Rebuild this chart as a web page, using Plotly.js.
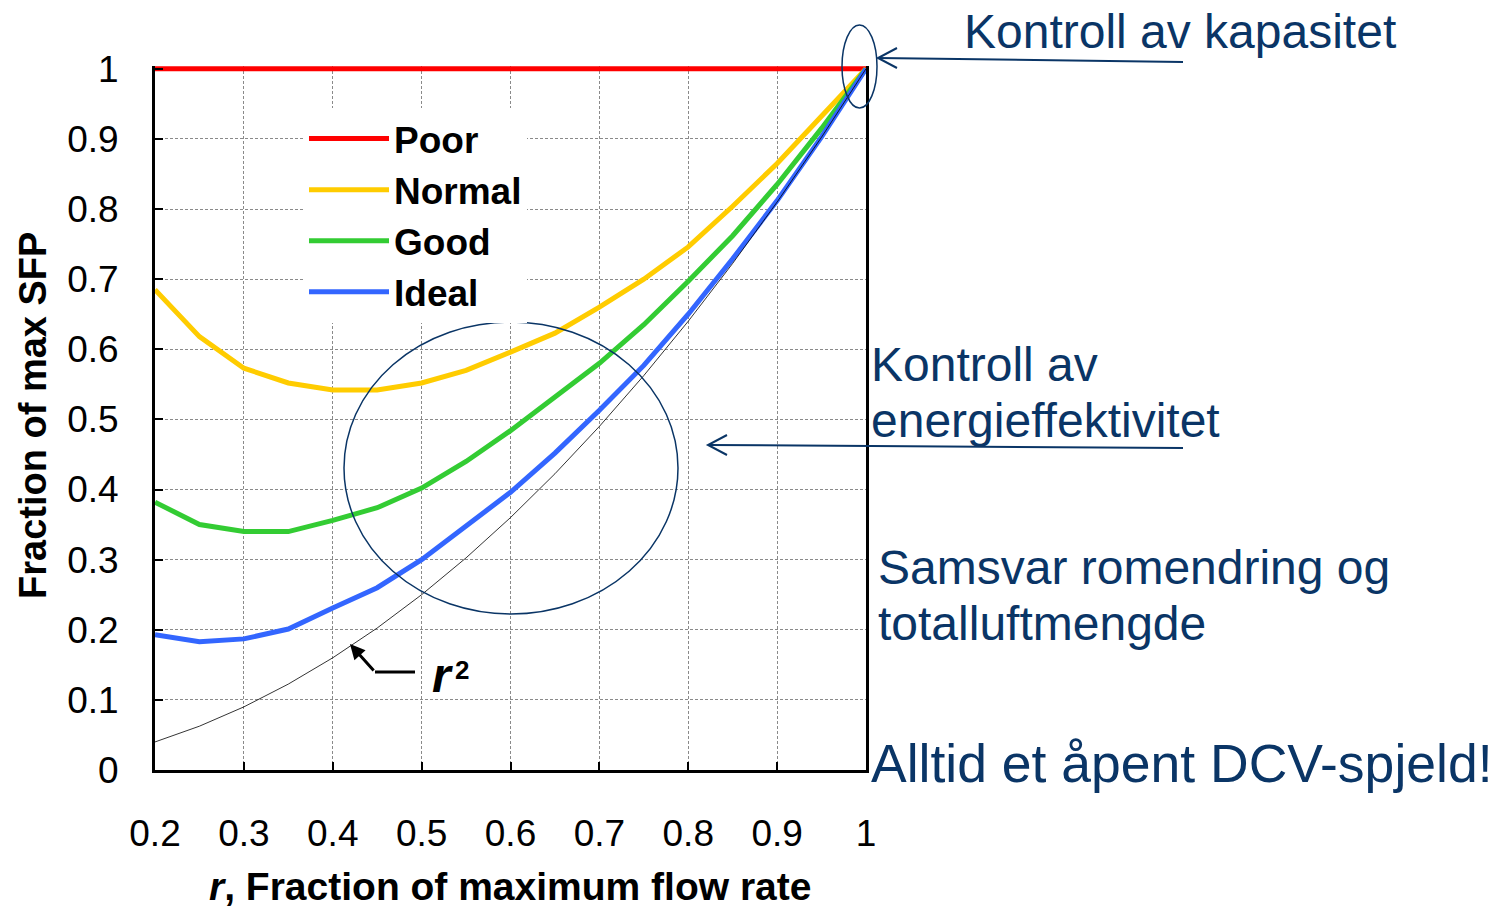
<!DOCTYPE html>
<html>
<head>
<meta charset="utf-8">
<script src="https://cdn.plot.ly/plotly-3.0.1.min.js"></script>
<style>html,body{margin:0;padding:0;background:#fff;}#chart{width:1496px;height:911px;}</style>
</head>
<body>
<div id="chart"></div>
<script>
// ---- data ----
const flowFraction = [0.20,0.25,0.30,0.35,0.40,0.45,0.50,0.55,0.60,0.65,0.70,0.75,0.80,0.85,0.90,0.95,1.00];
const poor   = [1,1,1,1,1,1,1,1,1,1,1,1,1,1,1,1,1];
const normal = [0.685,0.618,0.573,0.552,0.542,0.542,0.552,0.570,0.596,0.623,0.660,0.700,0.746,0.804,0.865,0.932,1.0];
const good   = [0.382,0.350,0.340,0.340,0.356,0.374,0.402,0.440,0.484,0.532,0.580,0.635,0.697,0.762,0.835,0.915,1.0];
const ideal  = [0.193,0.183,0.187,0.201,0.231,0.260,0.300,0.347,0.396,0.452,0.513,0.577,0.650,0.729,0.812,0.903,1.0];
const rSquared = [0.04,0.0625,0.09,0.1225,0.16,0.2025,0.25,0.3025,0.36,0.4225,0.49,0.5625,0.64,0.7225,0.81,0.9025,1.0];
const seriesNames = ['Poor','Normal','Good','Ideal'];
const xTicks = [0.2,0.3,0.4,0.5,0.6,0.7,0.8,0.9,1];
const xTickText = ['0.2','0.3','0.4','0.5','0.6','0.7','0.8','0.9','1'];
const yTicks = [0,0.1,0.2,0.3,0.4,0.5,0.6,0.7,0.8,0.9,1];
const yTickText = ['0','0.1','0.2','0.3','0.4','0.5','0.6','0.7','0.8','0.9','1'];

const FONT = 'Liberation Sans, Arial, sans-serif';
const NAVY = '#0a3566';
const colors = ['#ff0000','#ffcc00','#33cc33','#3366ff'];
const values = [poor, normal, good, ideal];

const traces = seriesNames.map((n,i)=>({
  type:'scatter', mode:'lines', name:n, x:flowFraction, y:values[i],
  line:{color:colors[i], width:5}, hoverinfo:'x+y'
}));
traces.push({type:'scatter', mode:'lines', name:'r²', x:flowFraction, y:rSquared,
  line:{color:'#000', width:0.8}, showlegend:false});

// plot area: left 155, right 866, top 66, bottom 770 (pixels)
const L=155, R=866, T=66, B=770;
const X = px => (px-L)/(R-L);
const Y = py => (B-py)/(B-T);

const shapes = [
  {type:'circle', xref:'paper', yref:'paper', x0:X(842), x1:X(877), y0:Y(108), y1:Y(25), line:{color:NAVY,width:1.5}},
  {type:'circle', xref:'paper', yref:'paper', x0:X(344), x1:X(678), y0:Y(614), y1:Y(322), line:{color:NAVY,width:1.5}},
  {type:'line', xref:'paper', yref:'paper', x0:X(878), y0:Y(58), x1:X(1183), y1:Y(62), line:{color:NAVY,width:2}},
  {type:'path', xref:'paper', yref:'paper', path:`M ${X(897)} ${Y(48)} L ${X(878)} ${Y(58)} L ${X(897)} ${Y(68)}`, line:{color:NAVY,width:2}},
  {type:'line', xref:'paper', yref:'paper', x0:X(708), y0:Y(445), x1:X(1183), y1:Y(448), line:{color:NAVY,width:2}},
  {type:'path', xref:'paper', yref:'paper', path:`M ${X(727)} ${Y(435)} L ${X(708)} ${Y(445)} L ${X(727)} ${Y(455)}`, line:{color:NAVY,width:2}},
  {type:'line', xref:'paper', yref:'paper', x0:X(375), y0:Y(672), x1:X(415), y1:Y(672), line:{color:'#000',width:3}}
];

const ann = (text, px, py, size, opts={}) => Object.assign({
  text, xref:'paper', yref:'paper', x:X(px), y:Y(py), xanchor:'left', yanchor:'middle',
  showarrow:false, font:{family:FONT, size, color:NAVY}
}, opts);

const annotations = [
  ann('Kontroll av kapasitet', 962, 32, 48),
  ann('Kontroll av', 869, 364, 48),
  ann('energieffektivitet', 869, 420, 48),
  ann('Samsvar romendring og', 876, 567, 48),
  ann('totalluftmengde', 876, 623, 48),
  ann('Alltid et åpent DCV-spjeld!', 869, 763, 53.5),
  ann('<b>Fraction of max SFP</b>', 33, 416, 38, {xanchor:'center', textangle:-90, font:{family:FONT,size:38,color:'#000'}}),
  ann('<b><i>r</i>, Fraction of maximum flow rate</b>', 510, 886, 39, {xanchor:'center', font:{family:FONT,size:39,color:'#000'}}),
  ann('<b><i>r</i></b>', 442, 675, 48, {xanchor:'center', font:{family:FONT,size:48,color:'#000'}}),
  ann('<b>2</b>', 462, 670, 26, {xanchor:'center', font:{family:FONT,size:26,color:'#000'}}),
  {text:'', xref:'paper', yref:'paper', x:X(350), y:Y(644), showarrow:true, ax:25, ay:28,
   arrowhead:2, arrowsize:1, arrowwidth:3, arrowcolor:'#000', standoff:0}
];

const axisCommon = {
  showline:true, linecolor:'#000', linewidth:3,
  ticks:'inside', ticklen:8, tickwidth:2, tickcolor:'#000',
  showgrid:true, gridcolor:'#8a8a8a', gridwidth:1, griddash:'3px,2px',
  zeroline:false, tickfont:{family:FONT, size:37, color:'#000'}, fixedrange:true
};

const layout = {
  width:1496, height:911,
  margin:{l:L, r:1496-R, t:T, b:911-B, pad:0},
  paper_bgcolor:'#fff', plot_bgcolor:'#fff',
  font:{family:FONT, color:'#000'},
  xaxis:Object.assign({}, axisCommon, {range:[0.2,1], tickvals:xTicks, ticktext:xTickText, ticklabelstandoff:29}),
  yaxis:Object.assign({}, axisCommon, {range:[0,1.004], tickvals:yTicks, ticktext:yTickText, mirror:true, ticklabelstandoff:26}),
  showlegend:true,
  legend:{x:X(304), y:Y(108), xanchor:'left', yanchor:'top', bgcolor:'#fff', borderwidth:0,
    font:{family:FONT, size:37, color:'#000', weight:'bold'}, itemwidth:80, tracegroupgap:0},
  shapes, annotations
};

Plotly.newPlot('chart', traces, layout, {displayModeBar:false, staticPlot:true});
</script>
</body>
</html>
